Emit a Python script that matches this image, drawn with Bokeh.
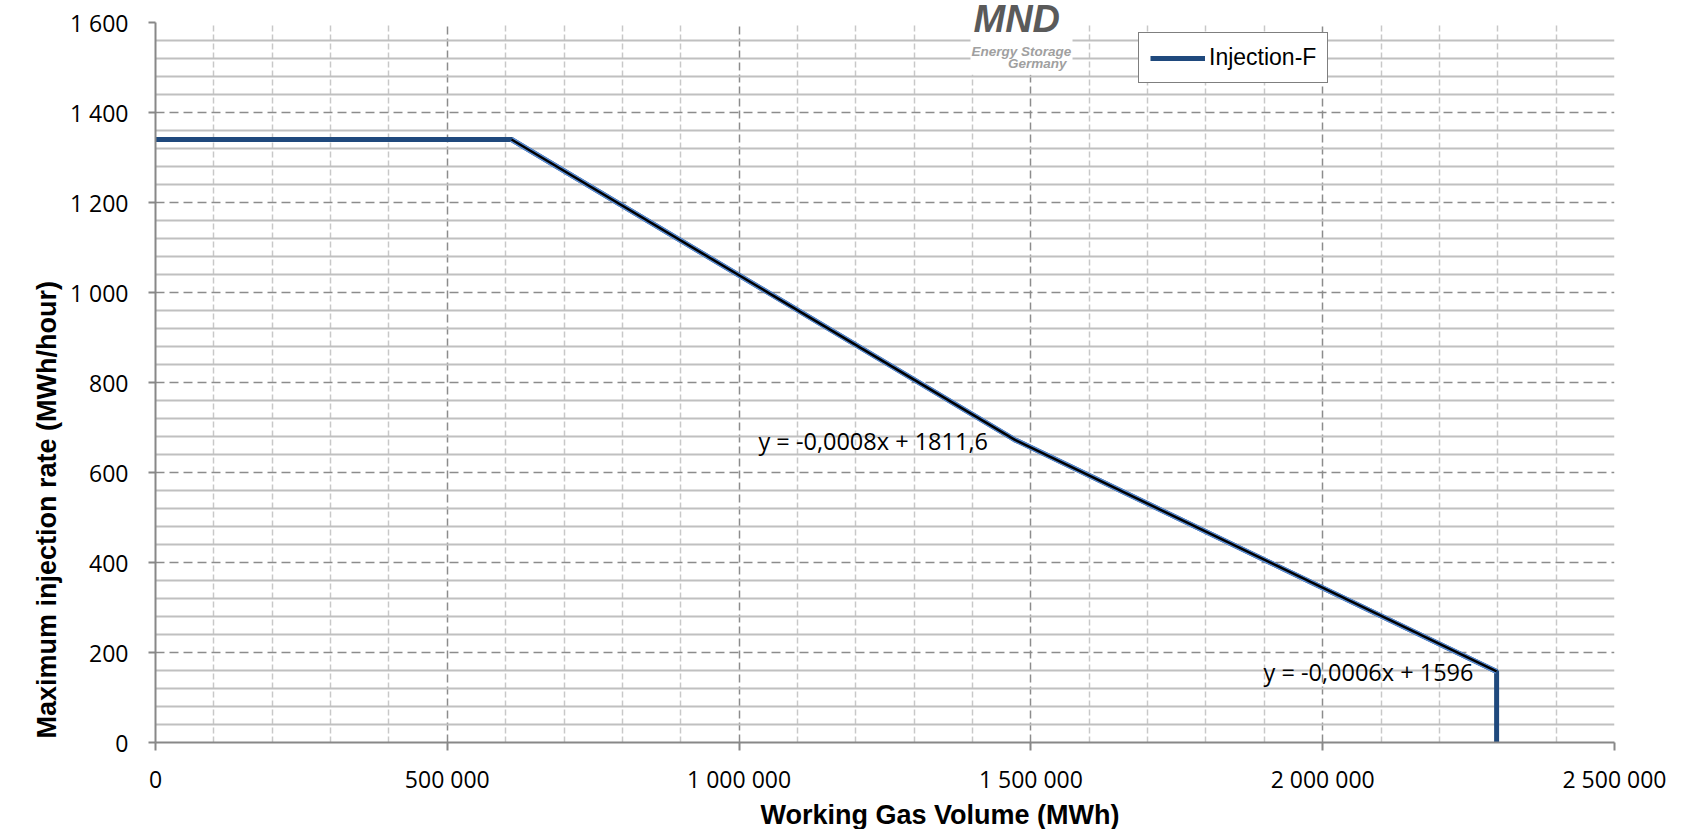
from bokeh.plotting import figure
from bokeh.models import FixedTicker, Range1d, Label, BoxAnnotation, Legend, LegendItem, Title
from bokeh.embed import file_html
from bokeh.resources import INLINE

# ---------------- data ----------------
volume_mwh = [0, 610000, 1472000, 2298000, 2298000]
rate_mwh_h = [1340, 1340, 673, 158, 0]
series_name = "Injection-F"
trend_texts = ["y = -0,0008x + 1811,6", "y = -0,0006x + 1596"]

x_ticks = [0, 500000, 1000000, 1500000, 2000000, 2500000]
x_tick_labels = ["0", "500 000", "1 000 000", "1 500 000", "2 000 000", "2 500 000"]
y_ticks = [0, 200, 400, 600, 800, 1000, 1200, 1400, 1600]
y_tick_labels = ["0", "200", "400", "600", "800", "1 000", "1 200", "1 400", "1 600"]
x_title = "Working Gas Volume (MWh)"
y_title = "Maximum  injection  rate (MWh/hour)"
logo_texts = ["MND", "Energy Storage", "Germany"]

# ---------------- figure ----------------
p = figure(width=1678, height=829, x_range=Range1d(0, 2500000), y_range=Range1d(0, 1600),
           output_backend="svg", toolbar_location=None,
           min_border_left=155, min_border_right=64, min_border_top=22, min_border_bottom=87)
p.outline_line_color = None
p.background_fill_color = "white"
p.border_fill_color = "white"
p.styles = {"outline": "1px solid #a0a0a0", "outline-offset": "-2px"}

x_minor = [t for t in range(0, 2500001, 100000) if t % 500000 != 0]
y_minor = [t for t in range(0, 1601, 40) if t % 200 != 0]
xt = FixedTicker(ticks=x_ticks, minor_ticks=x_minor)
yt = FixedTicker(ticks=y_ticks, minor_ticks=y_minor)
p.xaxis.ticker = xt
p.yaxis.ticker = yt
p.xgrid.ticker = xt
p.ygrid.ticker = yt
p.xaxis.major_label_overrides = {t: l for t, l in zip(x_ticks, x_tick_labels)}
p.yaxis.major_label_overrides = {t: l for t, l in zip(y_ticks, y_tick_labels)}

for ax in (p.xaxis, p.yaxis):
    ax.axis_line_color = "#888888"
    ax.axis_line_width = 2
    ax.major_tick_line_color = "#888888"
    ax.major_tick_line_width = 2
    ax.major_tick_in = 0
    ax.minor_tick_line_color = None
    ax.major_label_text_font = "Open Sans"
    ax.major_label_text_font_size = "23px"
    ax.major_label_text_color = "black"
p.xaxis.major_tick_out = 8
p.yaxis.major_tick_out = 7
p.xaxis.major_label_standoff = 12
p.yaxis.major_label_standoff = 20

p.xgrid.grid_line_color = "#8c8c8c"
p.xgrid.grid_line_dash = "8 4"
p.xgrid.grid_line_width = 1.5
p.xgrid.minor_grid_line_color = "#c8c8c8"
p.xgrid.minor_grid_line_dash = "6 3"
p.xgrid.minor_grid_line_width = 1.5
p.ygrid.grid_line_color = "#8c8c8c"
p.ygrid.grid_line_dash = "9 5"
p.ygrid.grid_line_width = 1.5
p.ygrid.minor_grid_line_color = "#c0c0c0"
p.ygrid.minor_grid_line_width = 2

# logo background (drawn over the grid, under everything else)
p.add_layout(BoxAnnotation(left=1396500, right=1571300, bottom=1484, fill_color="white",
                           fill_alpha=1, line_color=None, level="underlay"))

# ---------------- series ----------------
r_main = p.line(volume_mwh, rate_mwh_h, line_color="#1F497D", line_width=5)
p.line(volume_mwh[1:4], rate_mwh_h[1:4], line_color="#5B8ED6", line_width=5, line_join="round")
p.line(volume_mwh[1:4], rate_mwh_h[1:4], line_color="black", line_width=2.5, line_join="round")

legend = Legend(items=[LegendItem(label=series_name, renderers=[r_main])],
                location=(983, 659), orientation="vertical",
                border_line_color="black", border_line_width=1.5,
                background_fill_color="white", background_fill_alpha=1,
                label_text_font="Liberation Sans", label_text_font_size="23px",
                label_text_color="black", glyph_width=55, glyph_height=16,
                label_height=16, label_standoff=4, padding=11, margin=0, spacing=0)
p.add_layout(legend)

# trendline equations
p.add_layout(Label(x=1033200, y=671, text=trend_texts[0], text_font="Open Sans",
                   text_font_size="23.5px", text_baseline="middle", text_color="black"))
p.add_layout(Label(x=1898600, y=156, text=trend_texts[1], text_font="Open Sans",
                   text_font_size="23.5px", text_baseline="middle", text_color="black"))

# axis titles
p.add_layout(Title(text=x_title, align="left", offset=605, standoff=0,
                   text_font="Liberation Sans", text_font_style="bold",
                   text_font_size="27px", text_color="black"), "below")
p.add_layout(Title(text=y_title, align="left", offset=4, standoff=9,
                   text_font="Liberation Sans", text_font_style="bold",
                   text_font_size="27px", text_color="black"), "left")

# logo texts
p.add_layout(Title(text=logo_texts[0], align="left", offset=818, standoff=-34,
                   text_font="Liberation Sans", text_font_style="bold italic",
                   text_font_size="38px", text_color="#5a5a5a"), "above")
p.add_layout(Label(x=1398200, y=1535, text=logo_texts[1], text_font="Liberation Sans",
                   text_font_style="bold italic", text_font_size="13.5px",
                   text_baseline="alphabetic", text_color="#a0a0a0"))
p.add_layout(Label(x=1561000, y=1509, text=logo_texts[2], text_font="Liberation Sans",
                   text_font_style="bold italic", text_font_size="13.5px", text_align="right",
                   text_baseline="alphabetic", text_color="#a0a0a0"))

open("out.html", "w").write(file_html(p, INLINE))
